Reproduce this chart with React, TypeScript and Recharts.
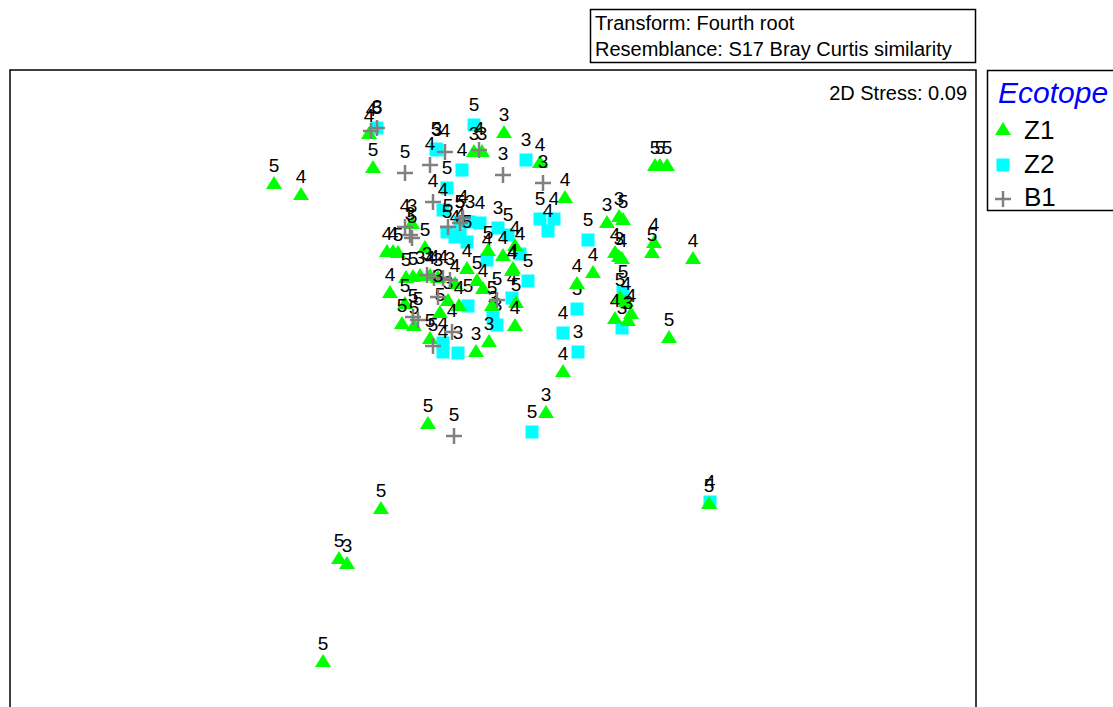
import React from 'react'
import { ScatterChart, Scatter, XAxis, YAxis, ReferenceArea } from 'recharts'

// nMDS coordinates: [x, y, sample label]
const z1Points: [number, number, string][] = [
  [-2.16, 1.97, '5'], [-1.89, 1.86, '4'], [-1.21, 2.47, '4'], [-1.17, 2.13, '5'],
  [-0.16, 2.29, '3'], [-0.08, 2.29, '3'], [0.14, 2.48, '3'], [0.5, 2.18, '4'],
  [0.75, 1.83, '4'], [1.17, 1.58, '3'], [1.29, 1.64, '3'], [1.33, 1.61, '5'],
  [1.25, 1.28, '4'], [1.29, 1.24, '3'], [1.32, 1.22, '4'], [1.64, 1.38, '4'],
  [1.62, 1.28, '5'], [2.03, 1.22, '4'], [1.03, 1.08, '4'], [0.87, 0.97, '4'],
  [0.73, 0.09, '4'], [1.3, 0.83, '5'], [1.36, 0.79, '4'], [1.25, 0.62, '4'],
  [1.41, 0.67, '4'], [1.38, 0.6, '3'], [1.79, 0.43, '5'], [1.65, 2.15, '5'],
  [1.7, 2.15, '5'], [1.77, 2.15, '5'], [-0.62, -0.43, '5'], [0.56, -0.32, '3'],
  [-1.09, -1.28, '5'], [-1.51, -1.78, '5'], [-1.43, -1.83, '3'], [-1.67, -2.81, '5'],
  [2.19, -1.23, '5'], [-1.03, 1.29, '4'], [-0.97, 1.29, '4'], [-0.92, 1.28, '5'],
  [-0.78, 1.57, '3'], [-0.65, 1.33, '5'], [-0.02, 1.3, '5'], [0.13, 1.25, '4'],
  [0.25, 1.35, '4'], [0.23, 1.12, '4'], [-0.84, 1.03, '5'], [-0.77, 1.04, '5'],
  [-0.7, 1.05, '3'], [-0.6, 1.05, '4'], [-0.52, 1.03, '3'], [-0.35, 0.97, '4'],
  [-0.23, 1.12, '4'], [-0.13, 1.0, '5'], [-0.07, 0.92, '4'], [0.22, 1.1, '4'],
  [-1.0, 0.88, '4'], [-0.85, 0.77, '5'], [-0.88, 0.57, '5'], [-0.76, 0.55, '5'],
  [-0.42, 0.8, '3'], [-0.31, 0.75, '4'], [-0.5, 0.68, '5'], [-0.6, 0.42, '5'],
  [-0.14, 0.29, '3'], [-0.01, 0.39, '3'], [0.02, 0.75, '5'], [0.26, 0.78, '5'],
  [0.25, 0.55, '4'],
]

const z2Points: [number, number, string][] = [
  [-1.13, 2.52, '5'], [-0.53, 2.3, '3'], [-0.54, 2.31, '5'], [-0.28, 2.1, '4'],
  [-0.16, 2.55, '5'], [0.36, 2.2, '3'], [0.5, 1.61, '5'], [0.64, 1.61, '4'],
  [0.58, 1.49, '4'], [0.98, 1.4, '5'], [0.87, 0.71, '5'], [0.73, 0.47, '4'],
  [0.88, 0.28, '3'], [1.33, 0.88, '5'], [1.32, 0.52, '3'], [0.42, -0.52, '5'],
  [2.2, -1.22, '4'], [-0.43, 1.92, '5'], [-0.47, 1.7, '4'], [-0.43, 1.48, '5'],
  [-0.3, 1.45, '4'], [-0.3, 1.58, '5'], [-0.2, 1.58, '3'], [-0.1, 1.57, '4'],
  [0.08, 1.52, '3'], [0.18, 1.45, '5'], [-0.35, 1.43, '4'], [-0.23, 1.38, '5'],
  [0.3, 1.26, '4'], [-0.03, 1.2, '4'], [0.38, 0.99, '5'], [-0.22, 0.74, '5'],
  [0.22, 0.82, '4'], [0.03, 0.62, '3'], [0.07, 0.55, '3'], [-0.47, 0.37, '4'],
  [-0.47, 0.28, '4'], [-0.32, 0.27, '3'],
]

const b1Points: [number, number, string][] = [
  [-1.19, 2.49, '4'], [-1.13, 2.52, '3'], [-0.85, 2.07, '5'], [-0.6, 2.15, '4'],
  [-0.45, 2.28, '4'], [-0.11, 2.3, '4'], [0.13, 2.05, '3'], [0.53, 1.97, '3'],
  [-0.57, 1.78, '4'], [-0.85, 1.53, '4'], [-0.78, 1.42, '5'], [-0.42, 1.53, '5'],
  [-0.3, 1.57, '5'], [-0.27, 1.62, '4'], [-0.63, 1.05, '3'], [-0.56, 1.02, '4'],
  [-0.47, 1.02, '4'], [-0.4, 1.0, '3'], [-0.52, 0.83, '3'], [-0.77, 0.63, '5'],
  [-0.72, 0.6, '5'], [-0.38, 0.48, '4'], [-0.57, 0.34, '5'], [0.07, 0.8, '5'],
  [-0.36, -0.56, '5'], [-0.8, 1.45, '3'],
]

const groupNames = ['Z1', 'Z2', 'B1']
const infoLines = ['Transform: Fourth root', 'Resemblance: S17 Bray Curtis similarity']
const stressText = '2D Stress: 0.09'

const FONT = '"Liberation Sans", Arial, sans-serif'
const GREEN = '#00ff00'
const CYAN = '#00ffff'
const GREY = '#808080'

const toRows = (pts: [number, number, string][]) => pts.map(([x, y, label]) => ({ x, y, label }))

const Triangle = ({ cx, cy }: { cx: number; cy: number }) => (
  <polygon points={`${cx},${cy - 7} ${cx - 8},${cy + 6} ${cx + 8},${cy + 6}`} fill={GREEN} />
)
const Square = ({ cx, cy }: { cx: number; cy: number }) => (
  <rect x={cx - 6.5} y={cy - 6.5} width={13} height={13} fill={CYAN} />
)
const Cross = ({ cx, cy }: { cx: number; cy: number }) => (
  <g stroke={GREY} strokeWidth={2.5}>
    <line x1={cx - 8} y1={cy} x2={cx + 8} y2={cy} />
    <line x1={cx} y1={cy - 8} x2={cx} y2={cy + 8} />
  </g>
)

const makeShape = (Marker: typeof Triangle, offset: number) => (props: any) => {
  const { cx, cy, payload } = props
  if (cx == null || cy == null) return <g />
  return (
    <g>
      <Marker cx={cx} cy={cy} />
      <text x={cx} y={cy - offset} textAnchor="middle" fontSize={19} fontFamily={FONT} fill="#000">
        {payload.label}
      </text>
    </g>
  )
}

export default function App() {
  return (
    <div style={{ position: 'absolute', left: 0, top: 0, width: 1113, height: 707, background: '#fff' }}>
      <ScatterChart width={1113} height={707} margin={{ top: 70, right: 137, bottom: 0, left: 10 }}>
        <XAxis type="number" dataKey="x" domain={[-4.8, 4.86]} hide />
        <YAxis type="number" dataKey="y" domain={[-3.27, 3.1]} hide />
        <ReferenceArea
          x1={-4.8}
          x2={4.86}
          y1={-3.8}
          y2={3.1}
          ifOverflow="visible"
          fill="none"
          stroke="#000"
          strokeWidth={1.5}
          fillOpacity={0}
        />
        <Scatter name="Z2" data={toRows(z2Points)} shape={makeShape(Square, 14)} isAnimationActive={false} />
        <Scatter name="Z1" data={toRows(z1Points)} shape={makeShape(Triangle, 11)} isAnimationActive={false} />
        <Scatter name="B1" data={toRows(b1Points)} shape={makeShape(Cross, 15)} isAnimationActive={false} />
      </ScatterChart>
      <svg
        width={1113}
        height={707}
        style={{ position: 'absolute', left: 0, top: 0, pointerEvents: 'none' }}
        fontFamily={FONT}
      >
        <text x={967} y={100} textAnchor="end" fontSize={20} fill="#000">{stressText}</text>
        <rect x={590.5} y={9.5} width={385} height={53} fill="none" stroke="#000" strokeWidth={1.5} />
        {infoLines.map((t, i) => (
          <text key={t} x={595} y={30 + i * 26} fontSize={20} fill="#000">{t}</text>
        ))}
        <rect x={987.5} y={70.5} width={140} height={140} fill="#fff" stroke="#000" strokeWidth={1.5} />
        <text x={998} y={103} fontSize={30} fontStyle="italic" fill="#0000ff">Ecotope</text>
        <Triangle cx={1003} cy={129} />
        <Square cx={1003} cy={165} />
        <Cross cx={1003} cy={199} />
        {groupNames.map((g, i) => (
          <text key={g} x={1024} y={139 + i * 33.5} fontSize={26} fill="#000">{g}</text>
        ))}
      </svg>
    </div>
  )
}
